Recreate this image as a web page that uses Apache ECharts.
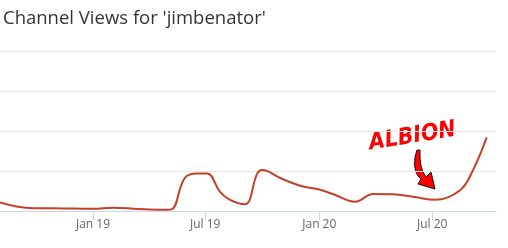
<!DOCTYPE html>
<html><head><meta charset="utf-8">
<script src="https://cdn.jsdelivr.net/npm/echarts@6/dist/echarts.min.js"></script>
<style>html,body{margin:0;padding:0;background:#fff}#c{width:508px;height:248px}</style>
</head><body><div id="c"></div>
<script>
const titleText = "Channel Views for 'jimbenator'";
const dates = ['2018-08-04','2018-09-21','2018-11-15','2019-01-01','2019-02-02','2019-03-15','2019-04-30','2019-05-08','2019-05-29','2019-06-18','2019-07-04','2019-07-25','2019-08-10','2019-09-03','2019-09-23','2019-10-01','2019-10-30','2019-12-01','2019-12-30','2020-01-23','2020-02-28','2020-03-28','2020-04-29','2020-05-31','2020-07-06','2020-08-15','2020-09-05','2020-09-27'];
const views = [5.4,1.9,1.6,1.4,2.1,1.3,0.8,1.0,20.6,23.5,23.5,12,6.9,4.2,23.5,25.6,20.6,15.8,13.6,10.6,5.8,10.6,10.4,8.9,7.0,13,25.6,46];
const tickDates = ['2019-01-01','2019-07-01','2020-01-01','2020-07-01'];
const axisMin = '2018-08-04', axisMax = '2020-10-12';
const annotationText = 'ALBION';
const months = ['Jan','Feb','Mar','Apr','May','Jun','Jul','Aug','Sep','Oct','Nov','Dec'];
const ts = d => new Date(d + 'T00:00:00Z').getTime();

const chart = echarts.init(document.getElementById('c'), null, {renderer:'canvas'});
chart.setOption({
  animation:false,
  title:{text:titleText,left:-2,top:4,textStyle:{fontFamily:'Open Sans',fontSize:18.5,fontWeight:'normal',color:'#333'}},
  grid:{left:0,right:12,top:51,bottom:37,containLabel:false},
  xAxis:{type:'value',min:ts(axisMin),max:ts(axisMax),
    axisLine:{lineStyle:{color:'#ccd6eb'}},
    axisTick:{show:true,length:9,lineStyle:{color:'#ccd6eb'},customValues:tickDates.map(ts)},
    axisLabel:{customValues:tickDates.map(ts),color:'#666',fontFamily:'Open Sans',fontSize:12,margin:8,
      formatter:v=>{const d=new Date(v);return months[d.getUTCMonth()]+' '+String(d.getUTCFullYear()).slice(2);}},
    splitLine:{show:false}},
  yAxis:{type:'value',min:0,max:100,interval:25,axisLabel:{show:false},axisLine:{show:false},axisTick:{show:false},
    splitLine:{lineStyle:{color:'#e6e6e6'}}},
  series:[{type:'line',smooth:0.4,showSymbol:false,data:dates.map((d,i)=>[ts(d),views[i]]),
    lineStyle:{color:'#c4402a',width:2}}],
  graphic:[
    {type:'text',x:371,y:155,rotation:0.16,scaleX:0.9,style:{text:annotationText,fill:'#ff0000',font:'italic bold 23px "DejaVu Sans"',
      textVerticalAlign:'bottom',shadowColor:'#000',shadowOffsetX:-1,shadowOffsetY:1.5,shadowBlur:0}},
    {type:'polygon',shape:{points:[[417,150],[415,157],[414.5,164],[415.5,171],[418,176],[421,179],[418,184],[435,189],[431,172],[426,177],[423,172],[421,166],[420,158],[420,150]]},
      style:{fill:'#ff0000',stroke:'#111',lineWidth:1}}
  ]
});
</script></body></html>
